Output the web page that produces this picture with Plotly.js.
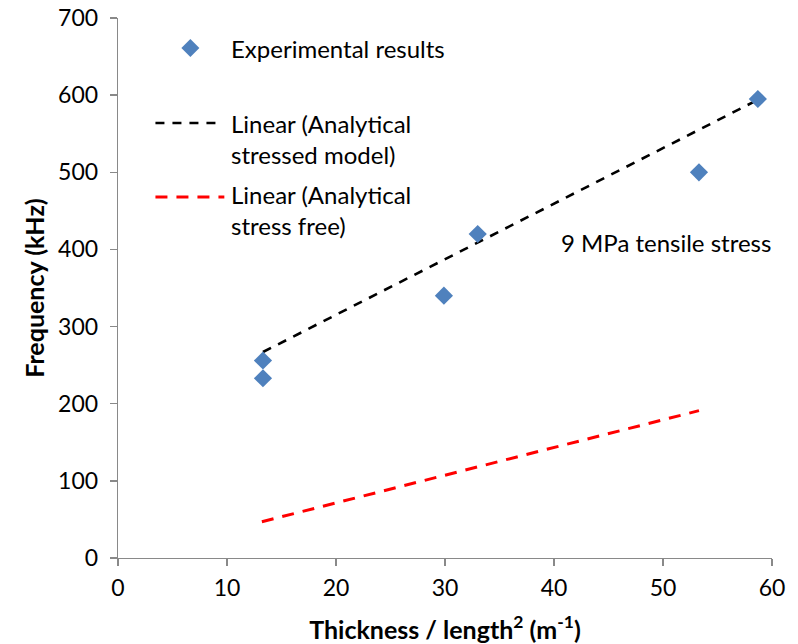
<!DOCTYPE html>
<html>
<head>
<meta charset="utf-8">
<script src="https://cdn.plot.ly/plotly-3.0.1.min.js"></script>
<style>html,body{margin:0;padding:0;background:#fff}#chart{width:798px;height:644px}</style>
</head>
<body>
<div id="chart"></div>
<script>
// Experimental results
const expX = [13.3, 13.3, 29.9, 33.0, 53.3, 58.7];
const expY = [256, 233, 340, 420, 500, 595];
// Linear (Analytical stressed model)
const stressedX = [13.3, 58.7];
const stressedY = [267, 594];
// Linear (Analytical stress free)
const freeX = [13.2, 53.3];
const freeY = [47, 191];

const legendLabels = ["Experimental results", "Linear (Analytical<br>stressed model)", "Linear (Analytical<br>stress free)"];
const noteText = "9 MPa tensile stress";
const xTitle = "Thickness / length<sup>2</sup> (m<sup>-1</sup>)";
const yTitle = "Frequency (kHz)";

const FONT = "Lato, 'Open Sans', sans-serif";

const traces = [
  {x: stressedX, y: stressedY, mode: "lines", type: "scatter",
   line: {color: "#000000", width: 2.6, dash: "9px,8px"}, showlegend: false, hoverinfo: "skip"},
  {x: freeX, y: freeY, mode: "lines", type: "scatter",
   line: {color: "#FF0000", width: 3, dash: "12px,9px"}, showlegend: false, hoverinfo: "skip"},
  {x: expX, y: expY, mode: "markers", type: "scatter",
   marker: {symbol: "diamond", size: 14, color: "#4F81BD", line: {width: 0}}, showlegend: false}
];

// manual legend (paper coordinates derived from pixel layout)
const L = 117.5, R = 772.5, T = 18, B = 558;
const px = v => (v - L) / (R - L);
const py = v => (B - v) / (B - T);

const shapes = [
  {type: "line", xref: "paper", yref: "paper", x0: px(155), x1: px(216), y0: py(123), y1: py(123),
   line: {color: "#000000", width: 2.6, dash: "9px,8px"}},
  {type: "line", xref: "paper", yref: "paper", x0: px(155), x1: px(224), y0: py(197), y1: py(197),
   line: {color: "#FF0000", width: 3, dash: "12px,9px"}},
  {type: "path", xref: "paper", yref: "paper",
   path: `M ${px(190)} ${py(39)} L ${px(199)} ${py(48)} L ${px(190)} ${py(57)} L ${px(181)} ${py(48)} Z`,
   fillcolor: "#4F81BD", line: {width: 0}}
];

const annFont = {family: FONT, size: 24, color: "#000000"};
const annotations = [
  {xref: "paper", yref: "paper", x: px(229), y: py(48), xanchor: "left", yanchor: "middle",
   text: legendLabels[0], showarrow: false, font: annFont, align: "left"},
  {xref: "paper", yref: "paper", x: px(229), y: py(139), xanchor: "left", yanchor: "middle",
   text: legendLabels[1], showarrow: false, font: annFont, align: "left"},
  {xref: "paper", yref: "paper", x: px(229), y: py(210), xanchor: "left", yanchor: "middle",
   text: legendLabels[2], showarrow: false, font: annFont, align: "left"},
  {xref: "paper", yref: "paper", x: px(666), y: py(243), xanchor: "center", yanchor: "middle",
   text: noteText, showarrow: false, font: annFont}
];

const axisCommon = {
  showgrid: false, zeroline: false, showline: true, linecolor: "#898989", linewidth: 1.3,
  ticks: "outside", ticklen: 7, tickcolor: "#898989", tickwidth: 1.3,
  tickfont: {family: FONT, size: 23, color: "#000000"}, fixedrange: true
};

const layout = {
  width: 798, height: 644,
  margin: {l: L, r: 798 - R, t: T, b: 644 - B, pad: 0},
  paper_bgcolor: "#ffffff", plot_bgcolor: "#ffffff",
  font: {family: FONT, color: "#000000"},
  xaxis: Object.assign({}, axisCommon, {range: [0, 60], dtick: 10, tick0: 0, ticklabelstandoff: 2,
    title: {text: "<b>" + xTitle + "</b>", font: {family: FONT, size: 25, color: "#000000"}, standoff: 24}}),
  yaxis: Object.assign({}, axisCommon, {range: [0, 700], dtick: 100, tick0: 0, ticklabelstandoff: 7,
    title: {text: "<b>" + yTitle + "</b>", font: {family: FONT, size: 25, color: "#000000"}, standoff: 6}}),
  shapes: shapes,
  annotations: annotations,
  showlegend: false
};

Plotly.newPlot("chart", traces, layout, {displayModeBar: false, staticPlot: true});
</script>
</body>
</html>
